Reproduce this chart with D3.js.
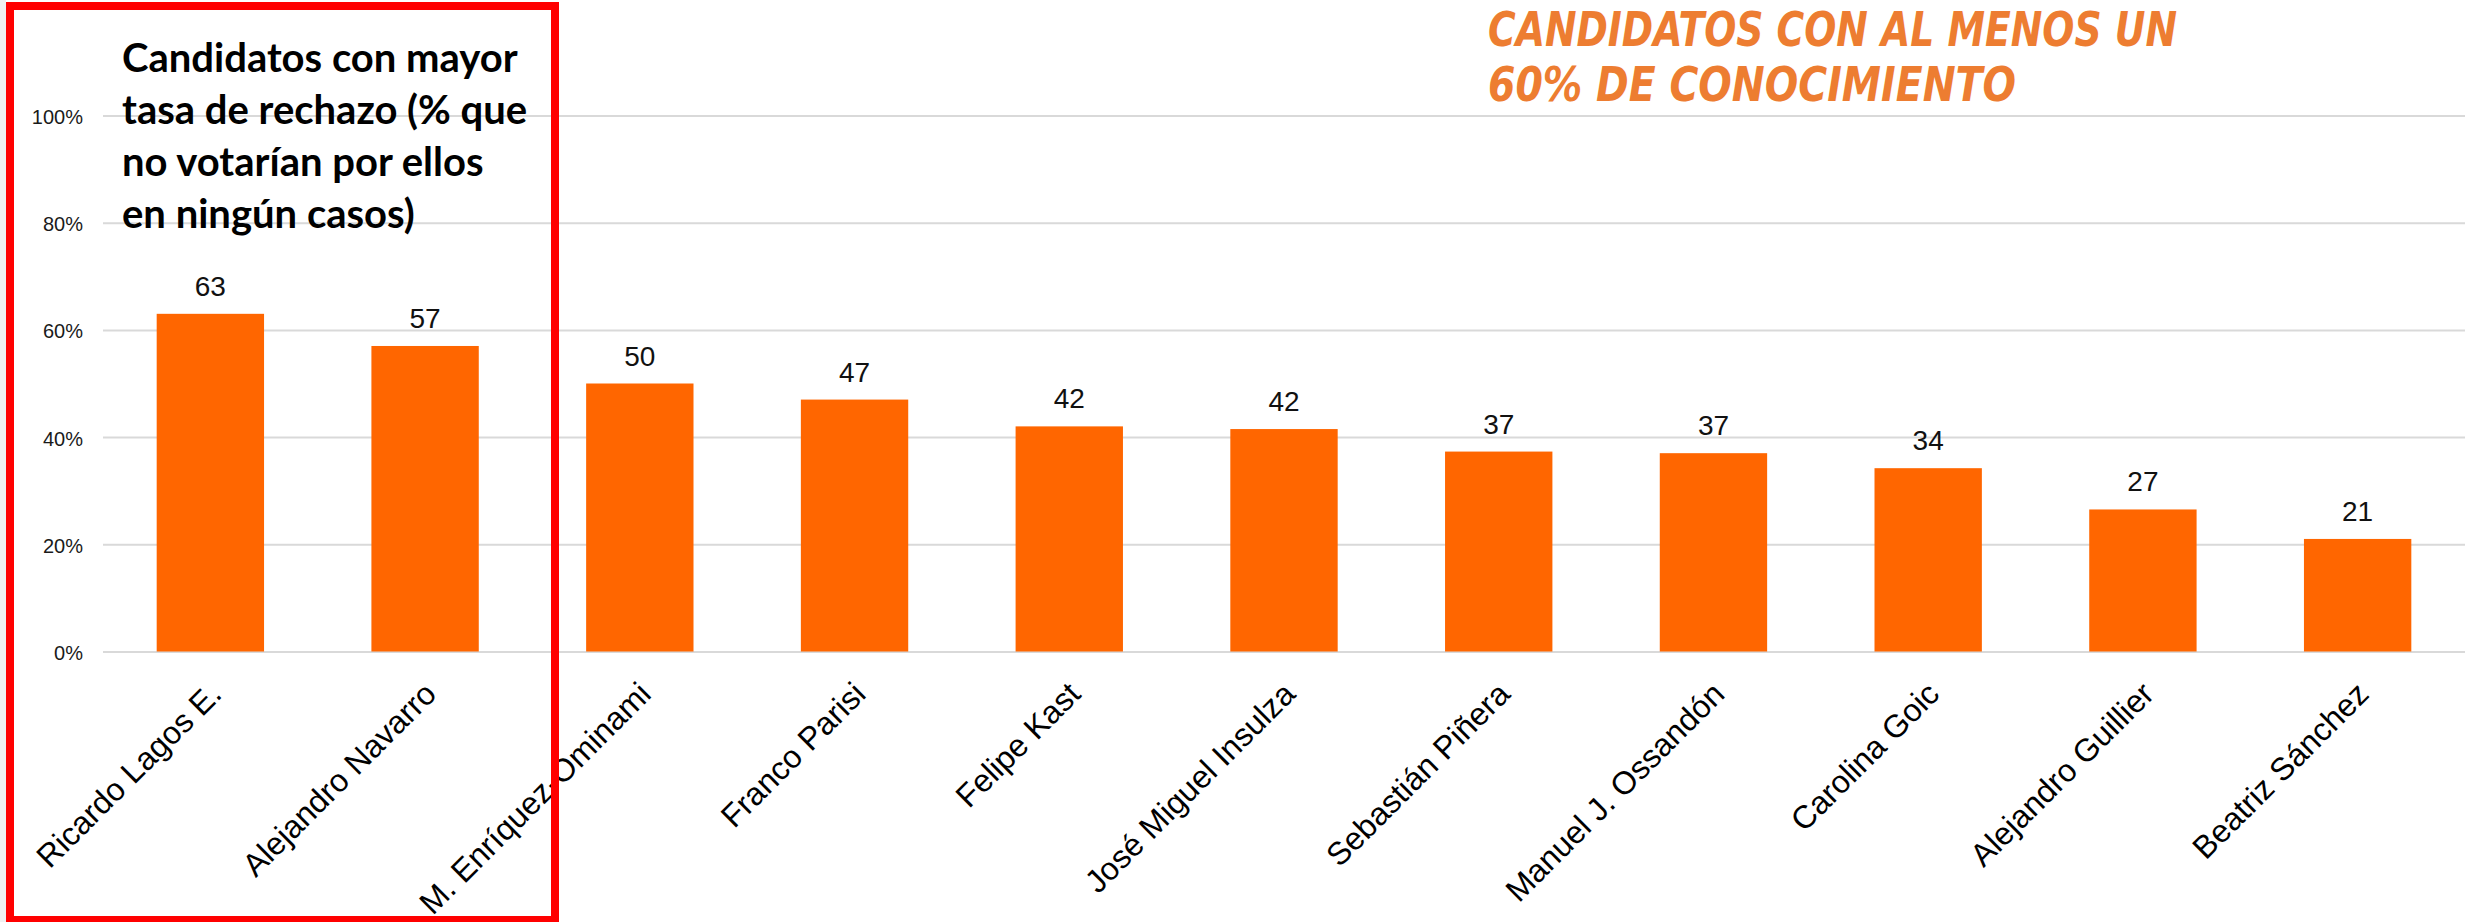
<!DOCTYPE html>
<html>
<head>
<meta charset="utf-8">
<script src="https://cdn.jsdelivr.net/npm/d3@7"></script>
<style>
    html, body { margin: 0; padding: 0; background: #fff; }
    svg { display: block; }
</style>
</head>
<body>
<svg id="chart" width="2473" height="922"></svg>
<script>
    // candidates, ordered as in the chart
    var candidates = [
        'Ricardo Lagos E.', 'Alejandro Navarro', 'M. Enríquez-Ominami', 'Franco Parisi',
        'Felipe Kast', 'José Miguel Insulza', 'Sebastián Piñera', 'Manuel J. Ossandón',
        'Carolina Goic', 'Alejandro Guillier', 'Beatriz Sánchez'
    ];
    // % that would never vote for them
    var rejection = [63, 57, 50, 47, 42, 41.5, 37.3, 37, 34.2, 26.5, 21];
    var rejectionLabels = ['63', '57', '50', '47', '42', '42', '37', '37', '34', '27', '21'];
    var yTicks = [0, 20, 40, 60, 80, 100];

    var boxTitle = ['Candidatos con mayor', 'tasa de rechazo (% que', 'no votarían por ellos', 'en ningún casos)'];
    var noteTitle = ['CANDIDATOS CON AL MENOS UN', '60% DE CONOCIMIENTO'];

    var svg = d3.select('#chart');

    var x = d3.scaleBand()
        .domain(candidates)
        .range([103, 2465])
        .paddingInner(0.5)
        .paddingOuter(0.25);

    var y = d3.scaleLinear()
        .domain([0, 100])
        .range([651.5, 115.5]);

    // light page edge at the far left
    svg.append('rect')
        .attr('x', 0).attr('y', 0)
        .attr('width', 6).attr('height', 922)
        .attr('fill', '#f0f0f0');

    // gridlines + y labels
    var yAxis = d3.axisLeft(y)
        .tickValues(yTicks)
        .tickSize(-(2465 - 103))
        .tickPadding(20)
        .tickFormat(function (d) { return d + '%'; });

    svg.append('g')
        .attr('transform', 'translate(103,0)')
        .call(yAxis)
        .call(function (g) {
            g.select('.domain').remove();
            g.selectAll('.tick line').attr('stroke', '#d9d9d9').attr('stroke-width', 2);
            g.selectAll('.tick text')
                .attr('fill', '#1a1a1a')
                .attr('font-family', 'Liberation Sans, Arial, sans-serif')
                .attr('font-size', 20)
                .attr('x', -20)
                .attr('dy', '0.4em');
        });

    // bars
    svg.append('g').selectAll('rect')
        .data(rejection)
        .enter().append('rect')
        .attr('x', function (d, i) { return x(candidates[i]); })
        .attr('y', function (d) { return y(d); })
        .attr('width', x.bandwidth())
        .attr('height', function (d) { return y(0) - y(d); })
        .attr('fill', '#ff6600');

    // value labels
    svg.append('g').selectAll('text')
        .data(rejection)
        .enter().append('text')
        .attr('x', function (d, i) { return x(candidates[i]) + x.bandwidth() / 2; })
        .attr('y', function (d) { return y(d) - 18; })
        .attr('text-anchor', 'middle')
        .attr('font-family', 'Liberation Sans, Arial, sans-serif')
        .attr('font-size', 28)
        .attr('fill', '#111')
        .text(function (d, i) { return rejectionLabels[i]; });

    // category labels, rotated
    svg.append('g').selectAll('text')
        .data(candidates)
        .enter().append('text')
        .attr('transform', function (d) {
            return 'translate(' + (x(d) + x.bandwidth() / 2 + 13) + ',696) rotate(-45)';
        })
        .attr('text-anchor', 'end')
        .attr('font-family', 'Liberation Sans, Arial, sans-serif')
        .attr('font-size', 32)
        .attr('fill', '#000')
        .text(String);

    // red highlight box
    svg.append('rect')
        .attr('x', 10).attr('y', 6)
        .attr('width', 545).attr('height', 914)
        .attr('fill', 'none')
        .attr('stroke', '#ff0000')
        .attr('stroke-width', 8);

    // box title
    svg.append('text')
        .attr('font-family', 'Lato, "Open Sans", sans-serif')
        .attr('font-weight', 'bold')
        .attr('font-size', 40)
        .attr('fill', '#000')
        .selectAll('tspan')
        .data(boxTitle)
        .enter().append('tspan')
        .attr('x', 122)
        .attr('y', function (d, i) { return 72 + i * 52; })
        .text(String);

    // orange note
    var noteWidths = [689, 528];
    svg.append('g').selectAll('text')
        .data(noteTitle)
        .enter().append('text')
        .attr('x', 1488)
        .attr('y', function (d, i) { return 46 + i * 55; })
        .attr('font-family', '"Liberation Sans Narrow", "DejaVu Sans Condensed", sans-serif')
        .attr('font-weight', 'bold')
        .attr('font-style', 'italic')
        .attr('font-size', 48)
        .attr('fill', '#ed7d31')
        .attr('textLength', function (d, i) { return noteWidths[i]; })
        .attr('lengthAdjust', 'spacingAndGlyphs')
        .text(String);
</script>
</body>
</html>
